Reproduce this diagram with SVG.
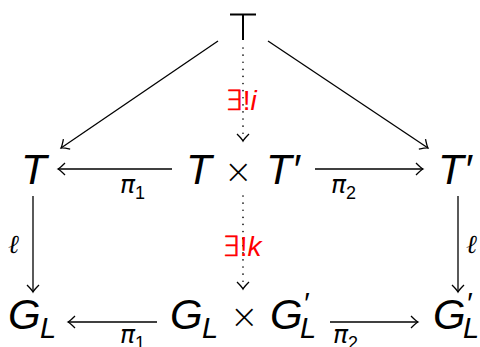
<svg xmlns="http://www.w3.org/2000/svg" width="480" height="347" viewBox="0 0 480 347">
<defs>
<marker id="ah" viewBox="-10 -8 12 16" markerWidth="12" markerHeight="16" refX="0" refY="0" orient="auto" markerUnits="userSpaceOnUse">
<path d="M-7,-6 Q-2,-1 0,0 Q-2,1 -7,6" fill="none" stroke="#000" stroke-width="1.3"/>
</marker>
</defs>
<style>
.v{font-family:"Liberation Sans",Arial,sans-serif;font-style:italic;font-size:42px;fill:#000}
.s{font-family:"Liberation Sans",Arial,sans-serif;font-style:italic;font-size:29px;fill:#000}
.u{font-family:"DejaVu Sans",sans-serif;font-weight:200;font-size:34px;fill:#000}
.lab{font-family:"DejaVu Sans",sans-serif;font-style:italic;font-size:25px;fill:#000}
.sub{font-family:"Liberation Sans",Arial,sans-serif;font-style:normal;font-size:18px;fill:#000}
.ell{font-family:"Liberation Serif","DejaVu Serif",serif;font-style:italic;font-size:26px;fill:#000}
.red{font-family:"Liberation Sans",Arial,sans-serif;font-size:28px;fill:#ff0000}
.ex{font-family:"DejaVu Sans",sans-serif;font-weight:200;stroke:#ff0000;stroke-width:0.7}
.ri{font-style:italic}
.e{stroke:#000;stroke-width:1.3;fill:none;marker-end:url(#ah)}
.d{stroke:#000;stroke-width:1.6;fill:none;stroke-dasharray:0.1 7;stroke-linecap:round;marker-end:url(#ah)}
</style>
<g id="top">
<path d="M230,14.5 H256 M243,14.5 V40" stroke="#000" stroke-width="2" fill="none"/>
</g>
<g id="T"><text class="v" x="21" y="184">T</text></g>
<g id="TxT"><text class="v" x="186" y="184">T</text><text class="u" x="224" y="183">×</text><text class="v" x="266" y="184">T′</text></g>
<g id="Tp"><text class="v" x="438" y="184">T′</text></g>
<g id="GL"><text class="v" x="8" y="329">G</text><text class="s" x="40" y="338">L</text></g>
<g id="GLxGL"><text class="v" x="170" y="329">G</text><text class="s" x="202" y="338">L</text><text class="u" x="230" y="328">×</text><text class="v" x="270" y="329">G<tspan style="font-size:30px" dy="-16">′</tspan></text><text class="s" x="300" y="338">L</text></g>
<g id="GLp"><text class="v" x="433" y="329">G<tspan style="font-size:30px" dy="-16">′</tspan></text><text class="s" x="463" y="338">L</text></g>
<g id="edges">
<path class="e" d="M218,41 L61,148"/>
<path class="e" d="M268,41 L428,148"/>
<path class="d" d="M243,48 V141"/>
<path class="e" d="M172,169 H58"/>
<path class="e" d="M315,169 H423"/>
<path class="d" d="M243,196 V289"/>
<path class="e" d="M33,196 V292"/>
<path class="e" d="M458,196 V292"/>
<path class="e" d="M157,322 H68"/>
<path class="e" d="M330,322 H418"/>
</g>
<g id="labels">
<text class="red" x="225" y="110"><tspan class="ex">∃</tspan>!<tspan class="ri">i</tspan></text>
<text class="red" x="222" y="256"><tspan class="ex">∃</tspan>!<tspan class="ri">k</tspan></text>
<text class="lab" x="120" y="193">π<tspan class="sub" dy="6">1</tspan></text>
<text class="lab" x="331" y="193">π<tspan class="sub" dy="6">2</tspan></text>
<text class="ell" x="8" y="253">ℓ</text>
<text class="ell" x="466" y="253">ℓ</text>
<text class="lab" x="120" y="343">π<tspan class="sub" dy="6">1</tspan></text>
<text class="lab" x="333" y="343">π<tspan class="sub" dy="6">2</tspan></text>
</g>
</svg>
